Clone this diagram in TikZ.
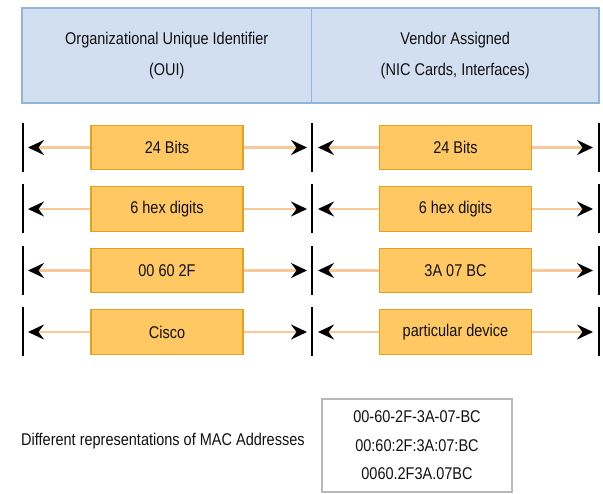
\documentclass[tikz,border=0pt]{standalone}
\usepackage{fontspec}
\setmainfont{Liberation Sans}[FakeStretch=0.853]
\usetikzlibrary{arrows.meta,shadows}
\definecolor{hdrfill}{HTML}{D2DFF0}
\definecolor{hdrdraw}{HTML}{93B4DC}
\definecolor{boxfill}{HTML}{FFC862}
\definecolor{boxdraw}{HTML}{E3A21E}
\definecolor{linkcol}{HTML}{FAC896}
\definecolor{macdraw}{HTML}{B8B8B8}
\definecolor{txt}{HTML}{111111}
\tikzset{
  hdr/.style={draw=hdrdraw, fill=hdrfill, line width=1.4pt, minimum height=95pt, inner sep=0pt, align=center, text=txt, font=\fontsize{17}{31}\selectfont},
  field/.style={draw=boxdraw, fill=boxfill, line width=1.3pt, minimum width=152pt, minimum height=44.5pt, inner sep=0pt, text=txt},
  conn/.style={draw=linkcol, line width=2.2pt, -{Stealth[length=16pt,width=15pt,inset=5.5pt,color=black]}},
  barline/.style={draw=black, line width=2.4pt},
  macbox/.style={draw=macdraw, fill=white, line width=1.5pt, minimum width=190pt, minimum height=93pt, inner sep=0pt, align=center, text=txt, font=\fontsize{17}{28.5}\selectfont, drop shadow={opacity=0.25, shadow xshift=1pt, shadow yshift=-1pt}},
}
\begin{document}
\begin{tikzpicture}[x=1pt,y=-1pt,font=\fontsize{17}{20}\selectfont]
\useasboundingbox (0,0) rectangle (603,494);
% header
\node[hdr, minimum width=289.5pt] (oui) at (166.75,55.5) {Organizational Unique Identifier\\(OUI)};
\node[hdr, minimum width=287.5pt] (vendor) at (455.25,55.5) {Vendor Assigned\\(NIC Cards, Interfaces)};
% rows
\foreach \i/\y/\a/\b in {1/147.5/24 Bits/24 Bits, 2/209/6 hex digits/6 hex digits, 3/270.5/00 60 2F/3A 07 BC, 4/332/Cisco/particular device}{
  \coordinate (barL\i) at (23,\y);
  \coordinate (barM\i) at (312,\y);
  \coordinate (barR\i) at (599,\y);
  \draw[barline] ([yshift=-24.5pt]barL\i) -- ([yshift=24.5pt]barL\i);
  \draw[barline] ([yshift=-24.5pt]barM\i) -- ([yshift=24.5pt]barM\i);
  \draw[barline] ([yshift=-24.5pt]barR\i) -- ([yshift=24.5pt]barR\i);
  \coordinate (tipA\i) at (28,\y);
  \coordinate (tipB\i) at (307,\y);
  \coordinate (tipC\i) at (318,\y);
  \coordinate (tipD\i) at (593,\y);
  \node[field] (left\i) at (167,\y) {\a};
  \node[field] (right\i) at (455.5,\y) {\b};
  \draw[conn] (left\i.west) -- (tipA\i);
  \draw[conn] (left\i.east) -- (tipB\i);
  \draw[conn] (right\i.west) -- (tipC\i);
  \draw[conn] (right\i.east) -- (tipD\i);
}
% bottom
\node[anchor=west, text=txt, inner sep=0pt] (caption) at (21,441) {Different representations of MAC Addresses};
\node[macbox] (mac) at (417,445.5) {00-60-2F-3A-07-BC\\00:60:2F:3A:07:BC\\0060.2F3A.07BC};
\end{tikzpicture}
\end{document}
